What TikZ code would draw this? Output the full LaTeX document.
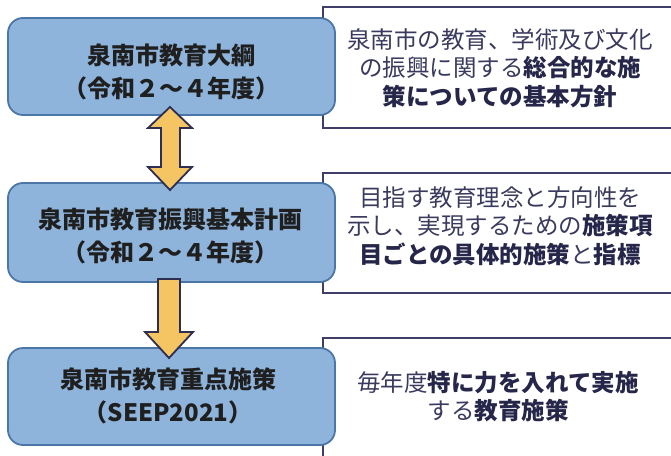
\documentclass[tikz,border=0pt]{standalone}
\usepackage{fontspec}
\newfontfamily\jp{Noto Sans CJK JP}
\definecolor{boxfill}{HTML}{8FB4DC}
\definecolor{boxedge}{HTML}{4A76A8}
\definecolor{arrowfill}{HTML}{F4C562}
\definecolor{navy}{HTML}{2E2E52}
\definecolor{frameline}{HTML}{3E3E68}
\definecolor{regtext}{HTML}{3A3A5E}
\definecolor{boldtext}{HTML}{26264A}
\newcommand{\bt}[1]{{\bfseries\color{boldtext}#1}}
\begin{document}
\begin{tikzpicture}[x=1pt,y=-1pt,
  bluebox/.style={draw=boxedge, line width=1.8pt, fill=boxfill, rounded corners=15pt, inner sep=0pt},
  bluetext/.style={font=\jp\bfseries\fontsize{24}{33}\selectfont, text=black!88, align=center, inner sep=0pt},
  infotext/.style={font=\jp\fontsize{23.5}{28.5}\selectfont, text=regtext, align=center, inner sep=0pt},
  frame/.style={draw=frameline, line width=2.4pt},
  blockarrow/.style={draw=navy, line width=1.8pt, fill=arrowfill, line join=miter}]
\useasboundingbox[fill=white] (0,0) rectangle (671,455);

% right frames
\draw[frame] (671,7) -- (323,7) -- (323,128) -- (671,128);
\draw[frame] (671,173) -- (323,173) -- (323,293) -- (671,293);
\draw[frame] (671,338) -- (323,338) -- (323,456);

% blue boxes
\node[bluebox, minimum width=327pt, minimum height=97pt] (b1) at (171.5,66.5) {};
\node[bluebox, minimum width=327pt, minimum height=99pt] (b2) at (171.5,232.5) {};
\node[bluebox, minimum width=327pt, minimum height=97pt] (b3) at (171.5,396.5) {};

\node[bluetext] (t1) at (171,71.5) {泉南市教育大綱\\（令和２～４年度）};
\node[bluetext] (t2) at (170.5,236) {泉南市教育振興基本計画\\（令和２～４年度）};
\node[bluetext] (t3) at (168,396) {泉南市教育重点施策\\（SEEP2021）};

% descriptions
\node[infotext] (d1) at (500,68) {泉南市の教育、学術及び文化\\の振興に関する\bt{総合的な施}\\\bt{策についての基本方針}};
\node[infotext] (d2) at (500,226) {目指す教育理念と方向性を\\示し、実現するための\bt{施策項}\\\bt{目ごとの具体的施策}と\bt{指標}};
\node[infotext] (d3) at (498,396.5) {毎年度\bt{特に力を入れて実施}\\する\bt{教育施策}};

% arrows
\draw[blockarrow] (170,107) -- (192,128) -- (180,128) -- (180,167) -- (192,167) -- (170,190)
  -- (148,167) -- (161,167) -- (161,128) -- (148,128) -- cycle;
\draw[blockarrow] (158,279) -- (180,279) -- (180,332) -- (193,332) -- (169,358) -- (145,332)
  -- (158,332) -- cycle;
\end{tikzpicture}
\end{document}
